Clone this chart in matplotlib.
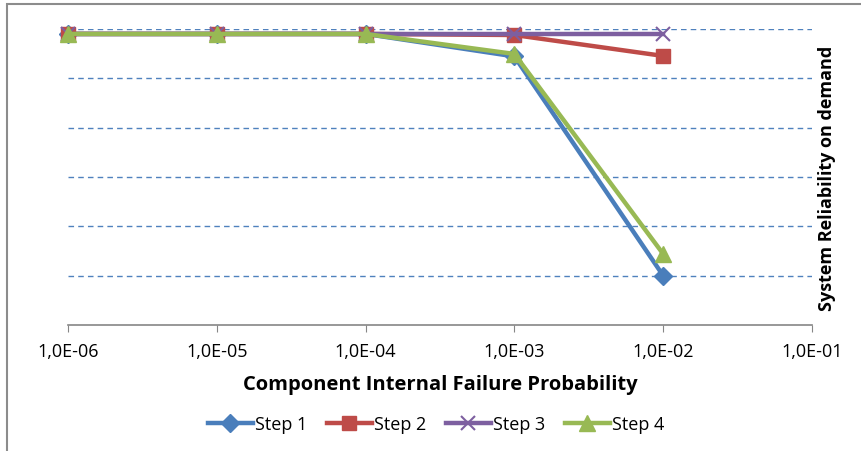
import matplotlib
matplotlib.use("Agg")
import matplotlib.pyplot as plt
from matplotlib.patches import Rectangle
from matplotlib.ticker import FixedLocator, NullFormatter

plt.rcParams['font.family'] = ['Open Sans', 'DejaVu Sans']

x_values = [1e-6, 1e-5, 1e-4, 1e-3, 1e-2]
step1 = [0.99950, 0.99950, 0.99950, 0.99722, 0.97500]
step2 = [0.99950, 0.99950, 0.99950, 0.99939, 0.99727]
step3 = [0.99950, 0.99950, 0.99950, 0.99950, 0.99950]
step4 = [0.99950, 0.99950, 0.99950, 0.99747, 0.97720]
series_names = ["Step 1", "Step 2", "Step 3", "Step 4"]
x_ticks = [1e-6, 1e-5, 1e-4, 1e-3, 1e-2, 1e-1]
x_tick_labels = ["1,0E-06", "1,0E-05", "1,0E-04", "1,0E-03", "1,0E-02", "1,0E-01"]
y_grid = [0.975, 0.980, 0.985, 0.990, 0.995, 1.000]

W, H = 861, 452
fig = plt.figure(figsize=(W / 100, H / 100), dpi=100)
ax = fig.add_axes([68 / W, (H - 326) / H, (812 - 68) / W, (326 - 30) / H])

# outer chart border (only left/top visible in crop)
fig.patches.append(Rectangle((7 / W, -0.1), 1.2, (H - 5) / H + 0.1, transform=fig.transFigure,
                             fill=False, edgecolor='#8c8c8c', linewidth=1.5, zorder=0))

colors = ['#4A7EBB', '#BE4B48', '#7D5FA0', '#98B954']
markers = ['D', 's', 'x', '^']
msizes = [9, 10, 10, 11]
for vals, name, c, m, ms in zip([step1, step2, step3, step4], series_names, colors, markers, msizes):
    kw = dict(markeredgewidth=1.5) if m == 'x' else dict(markeredgecolor=c)
    ax.plot(x_values, vals, color=c, linewidth=3.2, marker=m, markersize=ms,
            markerfacecolor=c, label=name, clip_on=False, zorder=3, **kw)

ax.set_xscale('log')
ax.set_xlim(1e-6, 1e-1)
ax.set_ylim(0.970, 1.000)
ax.xaxis.set_major_locator(FixedLocator(x_ticks))
ax.xaxis.set_minor_locator(FixedLocator([]))
ax.set_xticklabels(x_tick_labels, fontsize=13)
ax.set_yticks(y_grid)
ax.yaxis.set_major_formatter(NullFormatter())
ax.tick_params(axis='y', length=0)
ax.tick_params(axis='x', direction='out', length=5, color='#868686', pad=7)
for y in y_grid:
    ax.axhline(y, color='#4F81BD', linewidth=1, linestyle=(0, (4, 3)), zorder=1)

for s in ['left', 'right', 'top']:
    ax.spines[s].set_visible(False)
ax.spines['bottom'].set_color('#868686')
ax.spines['bottom'].set_linewidth(1.2)

ax.set_xlabel("Component Internal Failure Probability", fontsize=14.5, fontweight='bold', labelpad=10)
ax.yaxis.set_label_position('right')
ax.set_ylabel("System Reliability on demand", fontsize=13, fontweight='bold', labelpad=4)

fig.legend(loc='center', bbox_to_anchor=(436 / W, 1 - 425 / H), ncol=4, frameon=False,
           fontsize=13, handlelength=2.5, handletextpad=0.1, columnspacing=1.1)

fig.savefig("out.png", dpi=100)
